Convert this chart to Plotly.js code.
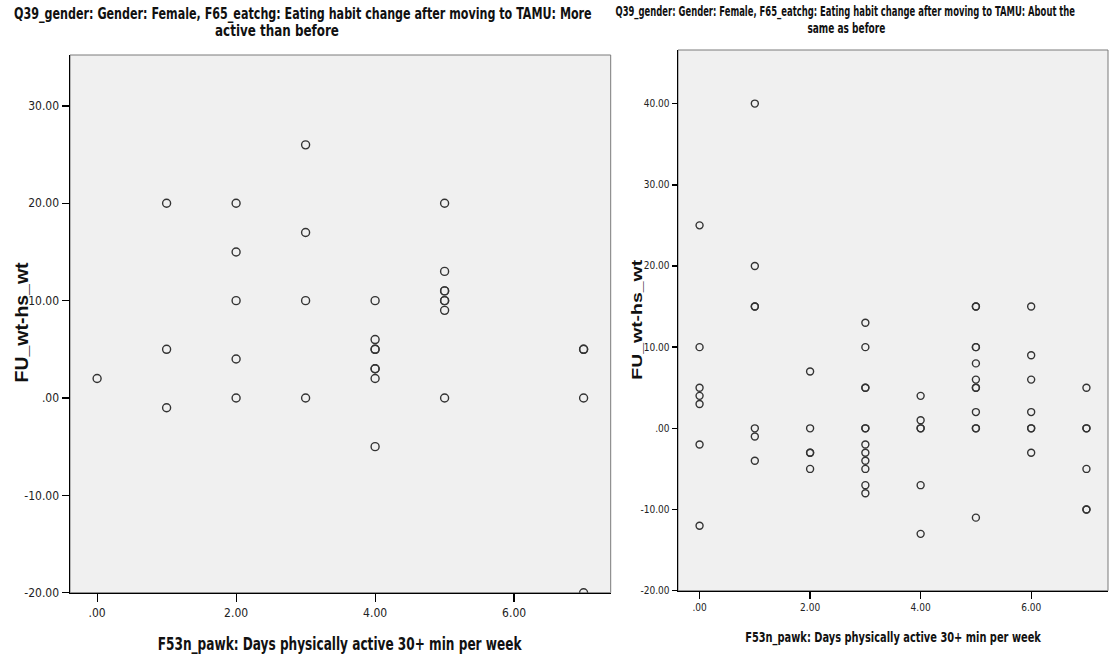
<!DOCTYPE html>
<html>
<head>
<meta charset="utf-8">
<script src="https://cdn.plot.ly/plotly-3.0.1.min.js"></script>
<style>
  html, body { margin: 0; padding: 0; background: #ffffff; }
  #chart { width: 1110px; height: 656px; }
</style>
</head>
<body>
<div id="chart"></div>
<script>
// Female respondents, "More active than before": days active vs weight change
const moreActiveDays = [
  0,
  1, 1, 1,
  2, 2, 2, 2, 2,
  3, 3, 3, 3,
  4, 4, 4, 4, 4, 4, 4, 4,
  5, 5, 5, 5, 5, 5, 5, 5,
  7, 7, 7, 7
];
const moreActiveChange = [
  2,
  20, 5, -1,
  20, 15, 10, 4, 0,
  26, 17, 10, 0,
  10, 6, 5, 5, 3, 3, 2, -5,
  20, 13, 11, 11, 10, 10, 9, 0,
  5, 5, 0, -20
];

// Female respondents, "About the same as before"
const sameDays = [
  0, 0, 0, 0, 0, 0, 0,
  1, 1, 1, 1, 1, 1, 1,
  2, 2, 2, 2, 2,
  3, 3, 3, 3, 3, 3, 3, 3, 3, 3, 3, 3,
  4, 4, 4, 4, 4, 4,
  5, 5, 5, 5, 5, 5, 5, 5, 5, 5, 5, 5,
  6, 6, 6, 6, 6, 6, 6,
  7, 7, 7, 7, 7, 7
];
const sameChange = [
  25, 10, 5, 4, 3, -2, -12,
  40, 20, 15, 15, 0, -1, -4,
  7, 0, -3, -3, -5,
  13, 10, 5, 5, 0, 0, -2, -3, -4, -5, -7, -8,
  4, 1, 0, 0, -7, -13,
  15, 15, 10, 10, 8, 6, 5, 5, 2, 0, 0, -11,
  15, 9, 6, 2, 0, 0, -3,
  5, 0, 0, -5, -10, -10
];

const xTickVals = [0, 2, 4, 6];
const xTickText = ['.00', '2.00', '4.00', '6.00'];
const leftYTickVals = [-20, -10, 0, 10, 20, 30];
const leftYTickText = ['-20.00', '-10.00', '.00', '10.00', '20.00', '30.00'];
const rightYTickVals = [-20, -10, 0, 10, 20, 30, 40];
const rightYTickText = ['-20.00', '-10.00', '.00', '10.00', '20.00', '30.00', '40.00'];

const leftTitleLines = ['Q39_gender: Gender: Female, F65_eatchg: Eating habit change after moving to TAMU: More', 'active than before'];
const rightTitleLines = ['Q39_gender: Gender: Female, F65_eatchg: Eating habit change after moving to TAMU: About the', 'same as before'];
const xTitle = 'F53n_pawk: Days physically active 30+ min per week';
const yTitle = 'FU_wt-hs_wt';

const W = 1110, H = 656;
const narrow = '"DejaVu Sans Condensed", "Liberation Sans Narrow", sans-serif';
const wide = '"Liberation Sans", Arial, sans-serif';

function px(x) { return x / W; }
function py(y) { return 1 - y / H; }

const markerStyle = (size) => ({
  symbol: 'circle-open',
  size: size,
  color: '#333333',
  line: { width: 1.4, color: '#333333' }
});

const traces = [
  {
    type: 'scatter', mode: 'markers',
    x: moreActiveDays, y: moreActiveChange,
    xaxis: 'x', yaxis: 'y',
    marker: markerStyle(8),
    hoverinfo: 'x+y'
  },
  {
    type: 'scatter', mode: 'markers',
    x: sameDays, y: sameChange,
    xaxis: 'x2', yaxis: 'y2',
    marker: markerStyle(7),
    hoverinfo: 'x+y'
  }
];

function xAxis(domain, anchor, fontSize, ticklen) {
  return {
    domain: domain, anchor: anchor,
    range: [-0.39, 7.39],
    tickmode: 'array', tickvals: xTickVals, ticktext: xTickText,
    ticks: 'outside', ticklen: ticklen, tickwidth: 1.2, tickcolor: '#000',
    showline: true, linecolor: '#000', linewidth: 1.5,
    showgrid: false, zeroline: false,
    tickfont: { family: narrow, size: fontSize, color: '#222' },
    fixedrange: true
  };
}

function yAxis(domain, anchor, range, vals, text, fontSize, ticklen) {
  return {
    domain: domain, anchor: anchor,
    range: range,
    tickmode: 'array', tickvals: vals, ticktext: text,
    ticks: 'outside', ticklen: ticklen, tickwidth: 1.5, tickcolor: '#000',
    showline: true, linecolor: '#000', linewidth: 1.5,
    showgrid: false, zeroline: false,
    tickfont: { family: narrow, size: fontSize, color: '#222' },
    fixedrange: true
  };
}

// text label helper: centre in page pixels, with the length the text is fitted to
function label(text, x, y, size, family, length, angle) {
  return {
    ann: {
      xref: 'paper', yref: 'paper', x: px(x), y: py(y),
      xanchor: 'center', yanchor: 'middle',
      text: text, showarrow: false, textangle: angle || 0,
      font: { family: family, size: size, color: '#111', weight: 'bold' }
    },
    cx: x, cy: y, length: length, angle: angle || 0
  };
}

const labels = [
  label(leftTitleLines[0], 303, 13.5, 15, narrow, 578),
  label(leftTitleLines[1], 277, 31.5, 15, narrow, 124),
  label(rightTitleLines[0], 845, 11.5, 13.5, narrow, 460),
  label(rightTitleLines[1], 846, 28, 13.5, narrow, 78),
  label(xTitle, 340, 644, 17, narrow, 364),
  label(xTitle, 893, 637, 14, narrow, 296),
  label(yTitle, 21, 322, 19, wide, 120, -90),
  label(yTitle, 637, 320, 14, wide, 120, -90)
];

const layout = {
  width: W, height: H,
  autosize: false,
  margin: { l: 0, r: 0, t: 0, b: 0 },
  paper_bgcolor: '#ffffff',
  plot_bgcolor: '#f0f0f0',
  showlegend: false,
  xaxis: xAxis([px(70), px(610.7)], 'y', 12, 8),
  yaxis: yAxis([py(592.7), py(55)], 'x', [-20, 35.23], leftYTickVals, leftYTickText, 12, 7),
  xaxis2: xAxis([px(678), px(1108)], 'y2', 10, 7),
  yaxis2: yAxis([py(590.7), py(50)], 'x2', [-20, 46.6], rightYTickVals, rightYTickText, 10, 5),
  shapes: [
    { type: 'rect', xref: 'x domain', yref: 'y domain', x0: 0, x1: 1, y0: 0, y1: 1,
      line: { color: '#7a7a7a', width: 1 }, layer: 'below' },
    { type: 'rect', xref: 'x2 domain', yref: 'y2 domain', x0: 0, x1: 1, y0: 0, y1: 1,
      line: { color: '#7a7a7a', width: 1 }, layer: 'below' }
  ],
  annotations: labels.map(l => l.ann)
};

Plotly.newPlot('chart', traces, layout, { displayModeBar: false, staticPlot: true }).then(gd => {
  // scale each label along its reading direction so it spans its set length
  gd.querySelectorAll('g.annotation').forEach(g => {
    const i = +g.getAttribute('data-index');
    const l = labels[i];
    const t = g.querySelector('text.annotation-text');
    const tg = g.querySelector('g.annotation-text-g');
    if (!l || !t || !tg) return;
    const natural = t.getComputedTextLength();
    if (!natural) return;
    const s = l.length / natural;
    const scale = l.angle ? `scale(1,${s})` : `scale(${s},1)`;
    const prev = tg.getAttribute('transform') || '';
    tg.setAttribute('transform',
      `translate(${l.cx},${l.cy}) ${scale} translate(${-l.cx},${-l.cy}) ${prev}`);
  });
});
</script>
</body>
</html>
